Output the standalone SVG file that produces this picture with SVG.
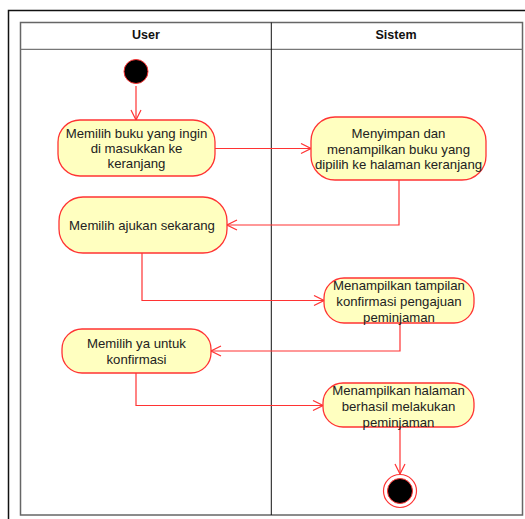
<svg xmlns="http://www.w3.org/2000/svg" width="525" height="519" viewBox="0 0 525 519">
<defs>
<style>
.node rect{fill:#ffffc0;stroke:#ff3333;stroke-width:1.3}
.node text{font-family:"Liberation Sans",Arial,sans-serif;font-size:13.2px;fill:#222;text-anchor:middle}
.hdr{font-family:"Liberation Sans",Arial,sans-serif;font-size:12.5px;font-weight:bold;fill:#111;text-anchor:middle}
.conn{fill:none;stroke:#ff3333;stroke-width:1.2}
</style>
<marker id="arr" viewBox="0 0 12 12" refX="11" refY="6" markerWidth="12" markerHeight="12" markerUnits="userSpaceOnUse" orient="auto">
<path d="M1,1 L11,6 L1,11" fill="none" stroke="#ff3333" stroke-width="1.2"/>
</marker>
</defs>
<rect width="525" height="519" fill="#fff"/>
<rect x="8.5" y="10.5" width="600" height="600" fill="none" stroke="#111" stroke-width="1.5"/>
<g id="swimlanes">
<rect x="20.5" y="22.5" width="502" height="492.5" fill="none" stroke="#666" stroke-width="1.5"/>
<line x1="20.5" y1="49.3" x2="522.5" y2="49.3" stroke="#777" stroke-width="1.3"/>
<line x1="271.3" y1="22.5" x2="271.3" y2="515" stroke="#111" stroke-width="1"/>
<text class="hdr" x="146" y="38.5">User</text>
<text class="hdr" x="396" y="38.5">Sistem</text>
</g>
<g id="connectors">
<line class="conn" x1="136" y1="86" x2="136" y2="120" marker-end="url(#arr)"/>
<line class="conn" x1="215" y1="148.5" x2="311" y2="148.5" marker-end="url(#arr)"/>
<polyline class="conn" points="399,180 399,225 227,225" marker-end="url(#arr)"/>
<polyline class="conn" points="142,253 142,300.5 324,300.5" marker-end="url(#arr)"/>
<polyline class="conn" points="400,323 400,351 211,351" marker-end="url(#arr)"/>
<polyline class="conn" points="136,373 136,405.5 323,405.5" marker-end="url(#arr)"/>
<line class="conn" x1="400" y1="427" x2="400" y2="474" marker-end="url(#arr)"/>
</g>
<g id="start"><circle cx="136" cy="71.5" r="12" fill="#000" stroke="#ff3333" stroke-width="1"/></g>
<g id="n1" class="node"><rect x="58" y="120" width="157" height="56" rx="22"/>
<text x="136.5" y="137.5">Memilih buku yang ingin</text><text x="136.5" y="152.5">di masukkan ke</text><text x="136.5" y="167.5">keranjang</text></g>
<g id="n2" class="node"><rect x="311" y="117" width="175" height="63" rx="24"/>
<text x="398.5" y="137.5">Menyimpan dan</text><text x="398.5" y="153.5">menampilkan buku yang</text><text x="398.5" y="168.5">dipilih ke halaman keranjang</text></g>
<g id="n3" class="node"><rect x="59" y="197" width="168" height="56" rx="24"/>
<text x="142" y="229.5">Memilih ajukan sekarang</text></g>
<g id="n4" class="node"><rect x="324" y="278" width="150" height="45" rx="20"/>
<text x="399" y="289.5">Menampilkan tampilan</text><text x="399" y="305.5">konfirmasi pengajuan</text><text x="399" y="321.5">peminjaman</text></g>
<g id="n5" class="node"><rect x="62" y="329" width="149" height="44" rx="20"/>
<text x="136.5" y="347.5">Memilih ya untuk</text><text x="136.5" y="363.5">konfirmasi</text></g>
<g id="n6" class="node"><rect x="323" y="383" width="151" height="44" rx="20"/>
<text x="398.5" y="394.5">Menampilkan halaman</text><text x="398.5" y="410.5">berhasil melakukan</text><text x="398.5" y="426.5">peminjaman</text></g>
<g id="end"><circle cx="400" cy="491" r="16.5" fill="#fff" stroke="#ff3333" stroke-width="1.2"/><circle cx="400" cy="491" r="12.5" fill="#000" stroke="#ff3333" stroke-width="1"/></g>
</svg>
